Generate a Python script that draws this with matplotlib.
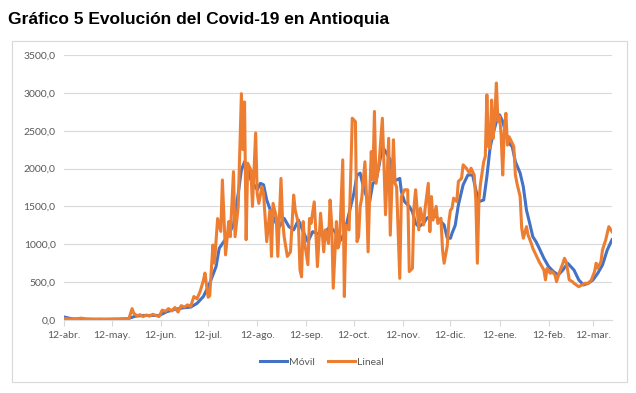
import matplotlib
matplotlib.use("Agg")
import matplotlib.pyplot as plt
from matplotlib.patches import Rectangle
import pandas as pd

# days counted from 12-abr-2020
start = pd.Timestamp("2020-04-12")
end_day = 346

lineal_days = [0, 2, 5, 8, 11, 14, 17, 20, 23, 26, 29, 32, 35, 38, 41, 43, 44, 46, 48, 50,
               52, 54, 56, 58, 60, 62, 64, 66, 68, 70, 72, 74, 76, 78, 80, 82, 84, 86, 88, 89,
               91, 92, 94, 95, 97, 99, 100, 102, 104, 105, 107, 108, 110, 112, 113, 114, 115, 116, 118, 119,
               121, 122, 123, 125, 126, 128, 130, 131, 132, 134, 135, 137, 138, 139, 141, 143, 145, 146, 148, 149,
               150, 151, 152, 154, 155, 156, 158, 159, 160, 162, 164, 165, 167, 168, 169, 170, 172, 173, 174, 176,
               177, 178, 180, 181, 182, 184, 185, 186, 187, 188, 190, 191, 192, 193, 194, 195, 196, 197, 199, 201,
               202, 203, 205, 206, 208, 209, 210, 212, 213, 215, 217, 218, 220, 221, 222, 224, 225, 227, 228, 230,
               231, 232, 233, 235, 236, 238, 239, 240, 242, 243, 244, 245, 246, 248, 249, 251, 252, 254, 256, 257,
               259, 260, 261, 262, 263, 265, 266, 267, 268, 269, 270, 271, 272, 273, 274, 275, 276, 277, 278, 279,
               280, 281, 282, 284, 285, 286, 287, 288, 289, 290, 292, 293, 295, 296, 298, 300, 303, 304, 305, 307,
               308, 310, 311, 313, 315, 316, 317, 318, 319, 321, 322, 325, 327, 329, 331, 333, 335, 336, 337, 339,
               340, 342, 344, 346]
lineal = [20, 15, 10, 15, 25, 12, 10, 8, 10, 8, 10, 12, 10, 15, 20, 150, 90, 55, 70, 45,
          65, 50, 75, 60, 45, 130, 115, 150, 120, 165, 105, 190, 170, 200, 180, 310, 280, 380, 520, 620,
          300, 320, 990, 750, 1340, 1170, 1850, 860, 1300, 1100, 1960, 1100, 1500, 2990, 2250, 2880, 1060, 2070, 1980, 1500,
          2470, 1670, 1540, 1760, 1670, 1035, 1450, 840, 1540, 1365, 840, 1870, 1320, 1100, 840, 900, 1650, 1450, 1275, 660,
          570, 1300, 1010, 730, 1340, 1275, 1560, 1170, 705, 1410, 900, 1190, 1010, 1585, 1275, 420, 1300, 950, 1035, 2115,
          310, 1255, 1190, 1890, 2665, 2620, 1035, 1100, 1500, 1610, 2090, 1630, 900, 1650, 2225, 1850, 2755, 1805, 2090, 2665,
          2070, 1390, 2400, 1120, 2380, 1805, 1760, 550, 1630, 1720, 1720, 640, 683, 1500, 1720, 1190, 1475, 1255, 1475, 1805,
          1167, 1630, 1320, 1500, 1275, 1343, 925, 750, 980, 1300, 1450, 1475, 1610, 1564, 1830, 1870, 2050, 2005, 1940, 2005,
          1915, 1585, 750, 1585, 1805, 2090, 2160, 2975, 2290, 2270, 2905, 2400, 2690, 3130, 2620, 2690, 2445, 1915, 2510, 2730,
          2310, 2420, 2380, 2290, 1915, 1805, 1720, 1630, 1210, 1080, 1233, 1123, 1013, 947, 860, 770, 660, 530, 683, 617,
          640, 595, 507, 640, 750, 815, 770, 660, 530, 507, 485, 440, 463, 485, 485, 530, 640, 750, 683, 770,
          925, 1057, 1233, 1167]

movil_days = [0, 5, 10, 20, 30, 40, 45, 50, 55, 60, 65, 70, 75, 80, 84, 88, 92, 96, 98, 103,
              107, 110, 112, 114, 116, 118, 122, 124, 126, 128, 131, 134, 136, 139, 142, 145, 148, 151, 154, 157,
              162, 165, 168, 171, 174, 177, 181, 183, 185, 187, 189, 191, 193, 195, 197, 199, 201, 203, 206, 208,
              210, 212, 213, 215, 218, 220, 222, 224, 227, 229, 231, 234, 237, 240, 242, 244, 245, 247, 249, 252,
              255, 258, 260, 262, 265, 267, 269, 271, 273, 275, 277, 279, 281, 283, 285, 288, 290, 292, 294, 296,
              298, 300, 303, 306, 309, 312, 315, 318, 322, 325, 328, 331, 334, 337, 340, 343, 346]
movil = [40, 15, 12, 10, 10, 15, 50, 60, 60, 60, 110, 140, 160, 170, 220, 310, 485, 705, 947, 1100,
         1255, 1670, 1980, 2090, 2050, 1850, 1720, 1805, 1785, 1585, 1410, 1275, 1233, 1343, 1233, 1190, 1320, 1167, 1035, 1167,
         1123, 1167, 1233, 1167, 1035, 1145, 1500, 1670, 1915, 1940, 1760, 1630, 1564, 1805, 1830, 2050, 2290, 2225, 2115, 1830,
         1850, 1870, 1695, 1564, 1500, 1430, 1275, 1233, 1275, 1343, 1365, 1387, 1320, 1255, 1080, 1080, 1145, 1250, 1520, 1785,
         1915, 1915, 1720, 1564, 1585, 1894, 2270, 2467, 2620, 2710, 2620, 2467, 2335, 2290, 2090, 1940, 1760, 1450, 1280, 1100,
         1035, 950, 815, 705, 640, 595, 660, 750, 660, 530, 463, 485, 530, 617, 727, 925, 1060]

tick_labels = ["12-abr.", "12-may.", "12-jun.", "12-jul.", "12-ago.", "12-sep.",
               "12-oct.", "12-nov.", "12-dic.", "12-ene.", "12-feb.", "12-mar."]
tick_dates = pd.date_range("2020-04-01", periods=12, freq="MS") + pd.Timedelta(days=11)
y_ticks = [0, 500, 1000, 1500, 2000, 2500, 3000, 3500]

lineal_x = start + pd.to_timedelta(lineal_days, unit="D")
movil_x = start + pd.to_timedelta(movil_days, unit="D")

W, H = 636, 393
fig = plt.figure(figsize=(W / 100, H / 100), dpi=100)
fig.patch.set_facecolor("white")

# outer chart frame
fig.patches.append(Rectangle((12 / W, 1 - 382 / H), (627 - 12) / W, (382 - 41) / H,
                             transform=fig.transFigure, fill=False,
                             edgecolor="#D9D9D9", linewidth=0.8))

fig.text(8 / W, 1 - 24 / H, "Gráfico 5 Evolución del Covid-19 en Antioquia",
         fontsize=12.5, fontweight="bold", family="Liberation Sans", color="black",
         va="baseline", ha="left")

ax = fig.add_axes([64 / W, 1 - 320 / H, (612 - 64) / W, (320 - 55) / H])
ax.plot(movil_x, movil, color="#4472C4", linewidth=2.2, label="Móvil", solid_joinstyle="round")
ax.plot(lineal_x, lineal, color="#ED7D31", linewidth=2.2, label="Lineal", solid_joinstyle="round")

ax.set_xticks(tick_dates)
ax.set_xticklabels(tick_labels)
ax.set_yticks(y_ticks)
ax.set_yticklabels([f"{v},0" for v in y_ticks])
ax.set_xlim(start, start + pd.Timedelta(days=end_day))
ax.set_ylim(0, 3500)

ax.grid(axis="y", color="#D9D9D9", linewidth=0.8)
ax.set_axisbelow(True)
for s in ["top", "right", "left"]:
    ax.spines[s].set_visible(False)
ax.spines["bottom"].set_color("#D9D9D9")
ax.spines["bottom"].set_linewidth(0.8)
ax.tick_params(axis="y", length=0, pad=6, labelsize=7.5, labelcolor="#595959")
ax.tick_params(axis="x", length=4, width=0.8, color="#D9D9D9", pad=4,
               labelsize=7.5, labelcolor="#595959")
for lbl in ax.get_xticklabels() + ax.get_yticklabels():
    lbl.set_family("Lato")

leg = fig.legend(loc="center", bbox_to_anchor=(322 / W, 1 - 362 / H), ncol=2,
                 frameon=False, handlelength=2.6, columnspacing=1.2, handletextpad=0.2,
                 prop={"family": "Lato", "size": 7.5})
for t in leg.get_texts():
    t.set_color("#595959")

fig.savefig("out.png", dpi=100, facecolor="white")
